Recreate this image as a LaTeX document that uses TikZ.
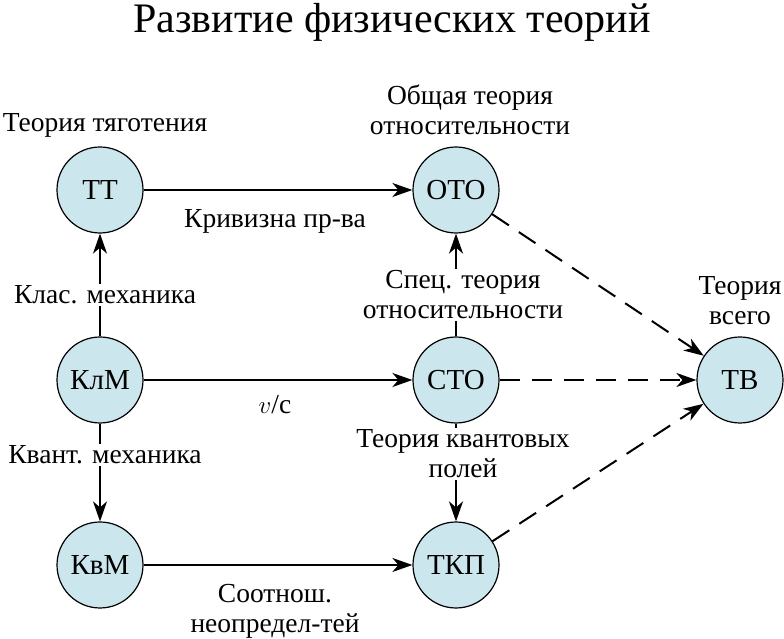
\documentclass[tikz,border=0pt]{standalone}
\usepackage{fontspec}
\setmainfont{Liberation Serif}
\usepackage{xcolor}
\usetikzlibrary{arrows.meta}
\definecolor{nodeblue}{RGB}{204,230,238}
\tikzset{
	main node/.style={circle,draw,line width=1.2pt,fill=nodeblue,minimum size=86pt,inner sep=0pt,font=\fontsize{29}{30}\selectfont},
	edgelabel/.style={fill=white,inner sep=1.5pt,align=center,font=\fontsize{27.5}{30}\selectfont},
	toplabel/.style={align=center,font=\fontsize{27.5}{30}\selectfont},
	dashline/.style={dashed,dash pattern=on 20pt off 12pt}
}

\begin{document}
\begin{tikzpicture}[x=1pt,y=1pt,line width=2pt,
		>={Stealth[length=20pt,width=14pt,inset=6pt]}]
	\useasboundingbox (0,0) rectangle (784,639);
	\node [font=\fontsize{42}{44}\selectfont] (title) at (392,617) {Развитие физических теорий};
	% theories
	\node [main node] (tt) at (100,449) {ТТ};
	\node [main node] (oto) at (456,449) {ОТО};
	\node [main node] (klm) at (100,259) {КлМ};
	\node [main node] (sto) at (456,259) {СТО};
	\node [main node] (tv) at (740,259) {ТВ};
	\node [main node] (kvm) at (100,74) {КвМ};
	\node [main node] (tkp) at (456,74) {ТКП};
	% names
	\node [toplabel] (ttname) at (105,514) {Теория тяготения};
	\node [toplabel] (otoname) at (470,529) {Общая теория\\относительности};
	\node [toplabel] (tvname) at (740,338) {Теория\\всего};
	% solid arrows
	\draw [->] (tt) -- (oto);
	\draw [->] (klm) -- (tt);
	\draw [->] (klm) -- (sto);
	\draw [->] (klm) -- (kvm);
	\draw [->] (kvm) -- (tkp);
	\draw [->] (sto) -- (oto);
	\draw [->] (sto) -- (tkp);
	% dashed arrows
	\draw [->,dashline] (oto) -- (tv);
	\draw [->,dashline] (sto) -- (tv);
	\draw [->,dashline] (tkp) -- (tv);
	% edge labels
	\node [edgelabel] (curv) at (275,418) {Кривизна пр-ва};
	\node [edgelabel] (clas) at (105,344) {Клас. механика};
	\node [edgelabel] (vc) at (275,234) {$v$/с};
	\node [edgelabel] (kvant) at (105,184) {Квант. механика};
	\node [edgelabel] (spec) at (463,344) {Спец. теория\\относительности};
	\node [edgelabel] (qft) at (463,185) {Теория квантовых\\полей};
	\node [edgelabel] (unc) at (275,28) {Соотнош.\\неопредел-тей};
\end{tikzpicture}
\end{document}
